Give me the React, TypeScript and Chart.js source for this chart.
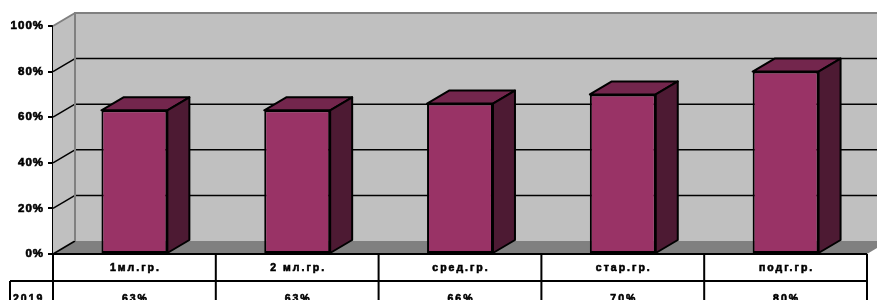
import { useEffect, useRef } from 'react';
import { Chart, registerables } from 'chart.js';

Chart.register(...registerables);

const categories = ['1мл.гр.', '2 мл.гр.', 'сред.гр.', 'стар.гр.', 'подг.гр.'];
const seriesName = '2019';
const values2019 = [63, 63, 66, 70, 80];
const valueLabels = ['63%', '63%', '66%', '70%', '80%'];
const yTicks = [0, 20, 40, 60, 80, 100];

const DX = 22;
const DY = 13;
const FONT = 'Arial, "Liberation Sans", sans-serif';
const C = {
  front: '#993366',
  top: '#73264D',
  side: '#4D1A33',
  wall: '#C0C0C0',
  floor: '#808080',
  edge: '#808080',
};

function poly(ctx: CanvasRenderingContext2D, pts: number[][]) {
  ctx.beginPath();
  ctx.moveTo(pts[0][0], pts[0][1]);
  for (let i = 1; i < pts.length; i++) ctx.lineTo(pts[i][0], pts[i][1]);
  ctx.closePath();
}

const threeD = {
  id: 'threeD',
  beforeDraw(chart: any) {
    (chart.ctx as any).letterSpacing = '1px';
  },
  beforeDatasetsDraw(chart: any) {
    const ctx: CanvasRenderingContext2D = chart.ctx;
    const a = chart.chartArea;
    const y = chart.scales.y;
    const top = y.getPixelForValue(100);
    const bot = y.getPixelForValue(0);
    ctx.save();
    ctx.fillStyle = C.floor;
    poly(ctx, [[a.left, bot], [a.left + DX, bot - DY], [a.right + DX, bot - DY], [a.right, bot]]);
    ctx.fill();
    ctx.fillStyle = C.wall;
    poly(ctx, [[a.left, top], [a.left + DX, top - DY], [a.left + DX, bot - DY], [a.left, bot]]);
    ctx.fill();
    ctx.fillRect(a.left + DX, top - DY, a.right - a.left, bot - top);
    for (const v of yTicks) {
      const yy = y.getPixelForValue(v);
      if (v > 0 && v < 100) {
        ctx.strokeStyle = '#000';
        ctx.lineWidth = 1.5;
        ctx.beginPath();
        ctx.moveTo(a.left + DX, yy - DY);
        ctx.lineTo(a.right + DX, yy - DY);
        ctx.stroke();
      }
      ctx.strokeStyle = v === 100 ? C.edge : '#000';
      ctx.lineWidth = v === 100 ? 2 : 1.5;
      ctx.beginPath();
      ctx.moveTo(a.left, yy);
      ctx.lineTo(a.left + DX, yy - DY);
      ctx.stroke();
    }
    ctx.strokeStyle = C.edge;
    ctx.lineWidth = 2;
    ctx.beginPath();
    ctx.moveTo(a.left + DX, bot - DY);
    ctx.lineTo(a.left + DX, top - DY);
    ctx.lineTo(a.right + DX + 5, top - DY);
    ctx.stroke();
    ctx.restore();
  },
  afterDatasetsDraw(chart: any) {
    const ctx: CanvasRenderingContext2D = chart.ctx;
    const meta = chart.getDatasetMeta(0);
    ctx.save();
    ctx.strokeStyle = '#000';
    ctx.lineWidth = 2;
    ctx.lineJoin = 'round';
    for (const bar of meta.data) {
      const p = bar.getProps(['x', 'y', 'base', 'width'], true);
      const l = p.x - p.width / 2;
      const r = p.x + p.width / 2;
      ctx.fillStyle = C.top;
      poly(ctx, [[l, p.y], [l + DX, p.y - DY], [r + DX, p.y - DY], [r, p.y]]);
      ctx.fill();
      ctx.stroke();
      ctx.fillStyle = C.side;
      poly(ctx, [[r, p.y], [r + DX, p.y - DY], [r + DX, p.base - DY], [r, p.base]]);
      ctx.fill();
      ctx.stroke();
    }
    ctx.restore();
  },
  afterDraw(chart: any) {
    const ctx: CanvasRenderingContext2D = chart.ctx;
    const a = chart.chartArea;
    const x = chart.scales.x;
    const bot = chart.scales.y.getPixelForValue(0);
    const H = chart.height;
    const n = categories.length;
    const w = (x.right - x.left) / n;
    const rowY = bot + 27;
    ctx.save();
    ctx.strokeStyle = '#000';
    ctx.lineWidth = 2;
    ctx.beginPath();
    ctx.moveTo(a.left, bot);
    ctx.lineTo(a.right, bot);
    ctx.moveTo(10, rowY);
    ctx.lineTo(a.right, rowY);
    ctx.moveTo(10, rowY);
    ctx.lineTo(10, H + 2);
    for (let i = 0; i <= n; i++) {
      const xx = x.left + i * w;
      ctx.moveTo(xx, bot);
      ctx.lineTo(xx, H + 2);
    }
    ctx.stroke();
    const sp = 2;
    (ctx as any).letterSpacing = sp + 'px';
    ctx.fillStyle = '#000';
    ctx.strokeStyle = '#000';
    ctx.lineWidth = 0.6;
    ctx.font = `bold 10.5px ${FONT}`;
    ctx.textBaseline = 'alphabetic';
    ctx.textAlign = 'center';
    const put = (t: string, px: number, py: number) => {
      ctx.fillText(t, px, py);
      ctx.strokeText(t, px, py);
    };
    for (let i = 0; i < n; i++) {
      const cx = x.getPixelForValue(i) + sp / 2;
      put(categories[i], cx, bot + 17);
      put(valueLabels[i], cx, rowY + 21);
    }
    ctx.textAlign = 'left';
    put(seriesName, 13, rowY + 21);
    ctx.restore();
  },
};

export default function App() {
  const ref = useRef<HTMLCanvasElement>(null);
  useEffect(() => {
    if (!ref.current) return;
    const chart = new Chart(ref.current, {
      type: 'bar',
      data: {
        labels: categories,
        datasets: [
          {
            label: seriesName,
            data: values2019,
            backgroundColor: C.front,
            borderColor: '#000',
            borderWidth: 2,
            borderSkipped: false,
            barPercentage: 0.405,
            categoryPercentage: 1,
          },
        ],
      },
      options: {
        responsive: false,
        animation: false,
        devicePixelRatio: 1,
        layout: { padding: { top: 26, right: 10, bottom: 46, left: 0 } },
        plugins: { legend: { display: false }, tooltip: { enabled: false } },
        scales: {
          x: { display: false },
          y: {
            z: 1,
            min: 0,
            max: 100,
            afterFit: (s: any) => {
              s.width = 53;
            },
            ticks: {
              stepSize: 20,
              padding: 4,
              color: '#000',
              textStrokeColor: '#000',
              textStrokeWidth: 0.6,
              font: { family: FONT, size: 11.5, weight: 'bold' },
              callback: (v: any) => v + '%',
            },
            grid: { drawOnChartArea: false, drawTicks: true, tickLength: 5, color: '#000', lineWidth: 2 },
            border: { display: true, color: '#000', width: 2 },
          },
        },
      },
      plugins: [threeD],
    });
    return () => chart.destroy();
  }, []);
  return (
    <div style={{ position: 'absolute', left: 0, top: 0 }}>
      <canvas ref={ref} width={877} height={300} style={{ display: 'block' }} />
    </div>
  );
}
